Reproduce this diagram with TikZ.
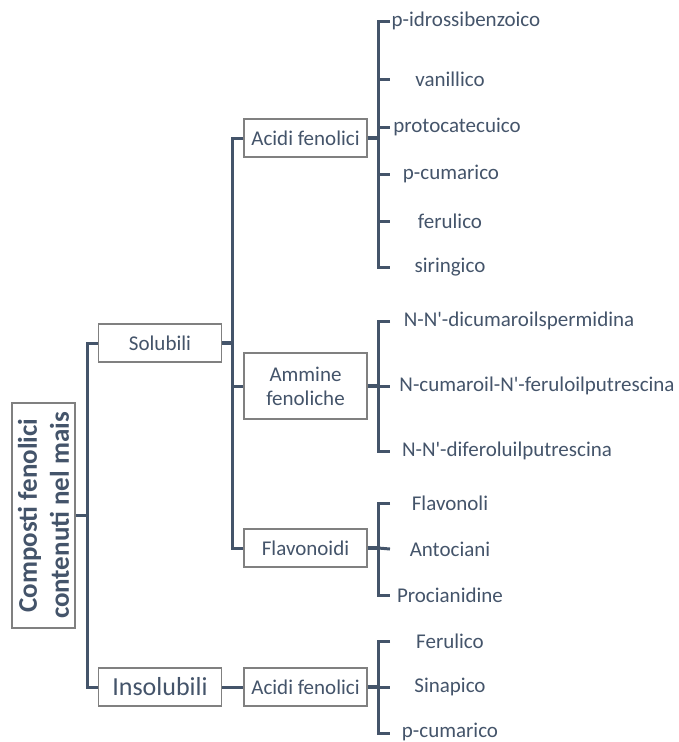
\documentclass[tikz,border=0pt]{standalone}
\usepackage{fontspec}
\setmainfont{Carlito}[Ligatures=TeXOff]
\definecolor{txt}{HTML}{44546A}
\definecolor{ln}{HTML}{44546A}
\definecolor{bx}{HTML}{808080}
\begin{document}
\begin{tikzpicture}[x=1pt,y=-1pt,
  box/.style={draw=bx,line width=1.2pt,fill=white,text=txt,inner sep=0pt,minimum width=123pt,minimum height=38pt,font=\fontsize{21}{24}\selectfont,align=center},
  leaf/.style={text=txt,inner sep=0pt,font=\fontsize{21}{24}\selectfont},
  conn/.style={draw=ln,line width=3pt},
  stub/.style={draw=ln,line width=3.6pt}]
\useasboundingbox (0,0) rectangle (679,742);
% root
\node[draw=bx,line width=1.2pt,text=txt,rotate=90,minimum width=225pt,minimum height=63pt,inner sep=0pt,align=center,font=\fontsize{27}{32}\selectfont\bfseries] (root) at (43.5,515.5) {Composti fenolici\\contenuti nel mais};
% level 1
\node[box] (sol) at (160,343) {Solubili};
\node[box,font=\fontsize{26}{30}\selectfont] (ins) at (160,687) {Insolubili};
% level 2
\node[box] (af) at (305.5,138) {Acidi fenolici};
\node[box,minimum height=66pt] (am) at (305.5,386) {Ammine\\fenoliche};
\node[box] (fl) at (305.5,548) {Flavonoidi};
\node[box] (ai) at (305.5,687) {Acidi fenolici};
% leaves
\node[leaf] (a1) at (466,21) {p-idrossibenzoico};
\node[leaf] (a2) at (450,79) {vanillico};
\node[leaf] (a3) at (457,127) {protocatecuico};
\node[leaf] (a4) at (451,174) {p-cumarico};
\node[leaf] (a5) at (450,221) {ferulico};
\node[leaf] (a6) at (450,267) {siringico};
\node[leaf] (m1) at (519,321) {N-N'-dicumaroilspermidina};
\node[leaf] (m2) at (537,386) {N-cumaroil-N'-feruloilputrescina};
\node[leaf] (m3) at (507,451) {N-N'-diferoluilputrescina};
\node[leaf] (f1) at (450,503) {Flavonoli};
\node[leaf] (f2) at (450,549) {Antociani};
\node[leaf] (f3) at (450,595) {Procianidine};
\node[leaf] (i1) at (450,641) {Ferulico};
\node[leaf] (i2) at (450,687) {Sinapico};
\node[leaf] (i3) at (450,732) {p-cumarico};
% junctions
\coordinate (j1) at (87,515.5);
\coordinate (j2) at (232,343);
\coordinate (ba) at (378,138);
\coordinate (bm) at (378,386);
\coordinate (bf) at (378,548);
\coordinate (bi) at (378,687);
% tick ends
\coordinate (ea1) at (390,21);
\coordinate (ea2) at (390,79);
\coordinate (ea3) at (390,127);
\coordinate (ea4) at (390,174);
\coordinate (ea5) at (390,221);
\coordinate (ea6) at (390,267);
\coordinate (em1) at (390,321);
\coordinate (em2) at (390,386);
\coordinate (em3) at (390,451);
\coordinate (ef1) at (390,503);
\coordinate (ef2) at (390,549);
\coordinate (ef3) at (390,595);
\coordinate (ei1) at (390,641);
\coordinate (ei2) at (390,687);
\coordinate (ei3) at (390,733);
% level 0 -> 1
\draw[stub] (root.south) -- (j1);
\draw[conn] (sol.west) -| (j1) |- (ins.west);
% level 1 -> 2
\draw[stub] (sol.east) -- (j2);
\draw[conn] (af.west) -| (j2) |- (fl.west);
\draw[conn] (j2) |- (am.west);
\draw[conn] (ins.east) -- (ai.west);
% level 2 -> 3
\draw[stub] (af.east) -- (ba);
\draw[conn] (ea1) -| (ba) |- (ea6);
\foreach \e in {ea2,ea3,ea4,ea5} \draw[conn] (ba |- \e) -- (\e);
\draw[stub] (am.east) -- (bm);
\draw[conn] (em1) -| (bm) |- (em3);
\draw[conn] (bm) -- (em2);
\draw[stub] (fl.east) -- (bf);
\draw[conn] (ef1) -| (bf) |- (ef3);
\draw[conn] (bf) -- (ef2);
\draw[stub] (ai.east) -- (bi);
\draw[conn] (ei1) -| (bi) |- (ei3);
\draw[conn] (bi) -- (ei2);
\end{tikzpicture}
\end{document}
